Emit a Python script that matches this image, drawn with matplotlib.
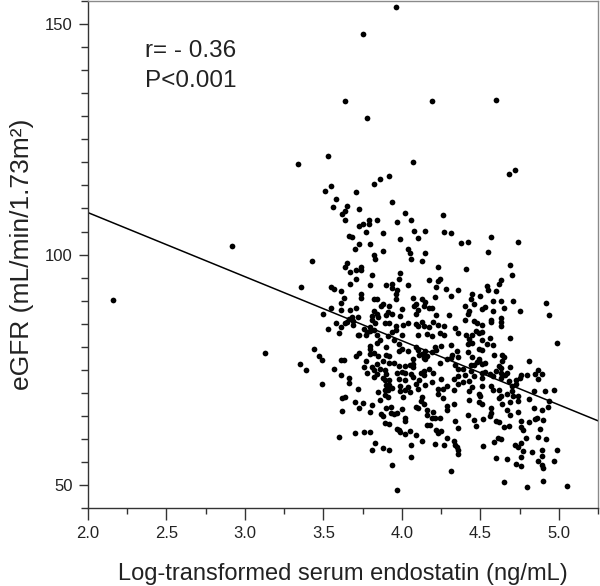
import matplotlib
matplotlib.use("Agg")
import matplotlib.pyplot as plt
from matplotlib.ticker import MultipleLocator

plt.rcParams["font.family"] = ["Liberation Sans", "DejaVu Sans"]

# ── data (log endostatin, eGFR) ──────────────────────────────────
# sparse / outlying points
xa = [3.96, 3.75, 3.64, 4.19, 3.78, 3.53, 3.34, 4.07, 3.92, 3.86,
      3.51, 3.55, 3.71, 3.82, 3.58, 4.60, 4.72, 4.68, 2.92, 2.16, 3.13]
ya = [153.8, 147.8, 133.3, 133.3, 129.6, 121.3, 119.7, 120.0, 117.1, 116.4,
      113.8, 114.9, 113.5, 115.4, 112.1, 133.5, 118.3, 117.4, 101.9, 90.2, 78.7]

# upper cloud
xb = [3.56, 3.65, 3.64, 3.62, 3.64, 3.73, 3.94, 4.02, 4.26, 3.79,
      3.84, 3.79, 3.75, 3.73, 3.97, 4.06, 4.08, 4.15, 3.77, 3.88,
      3.66, 3.68, 4.10, 3.99, 4.27, 4.31, 4.38, 4.42, 4.57, 4.74,
      3.73, 3.80, 3.70, 4.04, 4.05, 4.15, 3.88, 3.82, 3.83, 4.06,
      4.13, 4.55, 3.43, 3.65, 3.64, 3.74, 3.74, 3.71, 3.67, 3.99,
      4.23, 4.41, 4.69, 4.70, 3.81, 3.71, 3.80, 3.67, 3.98, 3.94,
      4.04, 3.90, 4.17, 4.23, 4.24, 4.22, 4.36, 4.28, 4.63, 4.62,
      4.54, 4.55, 4.60, 3.36, 3.55, 3.57, 3.61, 3.94, 3.97, 3.96,
      3.74, 3.74, 3.63, 3.82, 3.84, 3.96, 4.07, 4.13, 4.15, 4.21,
      4.31, 4.09, 4.08, 4.17, 4.19, 4.14, 3.88, 3.87, 3.61, 3.61,
      3.55, 3.67, 3.71, 3.92, 3.91, 3.82, 3.84, 3.90, 3.94, 4.00,
      4.10, 4.09, 4.22, 3.99, 4.45, 4.44, 4.50, 4.46, 4.40, 4.43,
      4.42, 4.51, 4.53, 4.58, 4.63, 4.71, 4.65, 4.75, 4.92, 4.94,
      4.58]
yb = [110.4, 110.5, 109.5, 108.8, 107.6, 109.9, 111.4, 109.1, 108.5, 107.5,
      107.6, 106.6, 106.7, 106.2, 107.0, 107.6, 105.1, 105.1, 104.9, 104.6,
      104.0, 103.9, 103.7, 103.4, 105.0, 104.7, 102.5, 102.7, 103.9, 102.7,
      102.2, 102.2, 101.3, 101.3, 100.3, 100.4, 100.8, 99.9, 99.0, 99.0,
      98.5, 100.6, 98.5, 98.2, 97.2, 97.4, 96.6, 96.7, 96.3, 96.1,
      97.2, 96.9, 97.7, 95.6, 95.5, 94.8, 93.4, 93.6, 94.8, 93.7,
      93.4, 93.4, 94.5, 94.3, 94.8, 93.0, 92.4, 92.5, 94.4, 93.7,
      93.2, 92.4, 92.2, 92.9, 92.9, 92.6, 92.2, 92.7, 92.4, 91.4,
      91.4, 90.6, 90.6, 90.4, 90.3, 90.4, 90.5, 90.4, 89.6, 90.8,
      90.9, 89.3, 88.8, 88.5, 88.4, 88.9, 89.3, 88.8, 89.5, 88.0,
      88.4, 88.0, 88.3, 88.8, 87.5, 87.8, 87.1, 86.9, 87.2, 88.1,
      88.0, 87.2, 86.9, 86.7, 91.5, 90.4, 90.9, 89.3, 88.9, 87.8,
      87.2, 88.2, 88.7, 89.9, 90.0, 90.0, 88.3, 87.8, 89.4, 86.9,
      87.7]

# middle band
xc = [4.57, 4.63, 4.63, 4.63, 4.57, 4.46, 4.48, 4.51, 4.47, 4.49,
      4.51, 4.45, 4.41, 4.40, 4.34, 4.36, 4.30, 4.27, 4.23, 4.17,
      4.20, 4.13, 4.14, 4.10, 4.09, 4.01, 4.04, 3.96, 3.94, 3.96,
      4.00, 3.89, 3.92, 3.83, 3.85, 3.81, 3.81, 3.80, 3.80, 3.78,
      3.76, 3.77, 3.82, 3.73, 3.72, 3.84, 3.91, 4.10, 4.16, 4.19,
      4.24, 4.27, 3.69, 3.69, 3.65, 3.66, 3.68, 3.72, 3.64, 3.58,
      3.61, 3.53, 3.60, 3.50, 4.69, 4.56, 4.43]
yc = [85.9, 86.3, 85.4, 84.5, 85.4, 85.5, 85.1, 84.7, 83.5, 82.9,
      83.1, 82.6, 82.5, 85.8, 84.1, 82.9, 86.9, 84.6, 84.8, 84.2,
      85.4, 85.3, 84.5, 84.4, 85.0, 84.7, 85.1, 84.6, 83.2, 83.7,
      82.6, 85.2, 85.2, 85.2, 86.4, 86.6, 85.9, 84.2, 83.4, 83.1,
      83.9, 82.5, 83.6, 82.5, 82.5, 82.5, 82.4, 82.6, 82.8, 82.3,
      82.9, 82.6, 84.8, 85.5, 85.3, 86.0, 86.4, 86.4, 85.1, 85.2,
      84.3, 83.8, 83.0, 87.2, 82.0, 82.0, 81.7]

# lower-left cloud
xd = [3.44, 3.47, 3.49, 3.35, 3.39, 3.49, 3.57, 3.61, 3.63, 3.61,
      3.66, 3.66, 3.72, 3.71, 3.73, 3.80, 3.80, 3.84, 3.86, 3.85,
      3.82, 3.80, 3.90, 3.90, 3.92, 3.88, 3.76, 3.81, 3.82, 3.86,
      3.89, 3.90, 3.82, 3.78, 3.84, 3.88, 3.89, 3.92, 3.90, 3.92,
      3.89, 3.91, 3.85, 3.89, 3.94, 3.91, 3.95, 3.98, 4.02, 4.05,
      4.07, 4.07, 4.00, 4.02, 3.97, 3.98, 4.02, 4.06, 4.07, 4.12,
      4.14, 4.14, 4.11, 4.09, 4.04, 3.99, 3.99, 4.01, 4.05, 4.02,
      4.10, 4.15, 4.19, 4.20, 4.17, 4.15, 4.14, 4.13, 4.11, 4.10,
      4.09, 4.14, 4.16, 4.15, 4.19, 4.21, 4.22, 4.24, 4.25, 4.23,
      3.77, 3.84, 3.92, 3.98, 4.00, 4.04, 3.98, 3.95, 4.07, 4.23]
yd = [79.6, 78.0, 77.1, 76.2, 75.0, 71.9, 75.2, 77.1, 77.1, 73.8,
      73.3, 72.2, 70.9, 77.9, 78.7, 80.1, 79.5, 80.7, 81.4, 78.0,
      78.7, 78.4, 79.9, 78.1, 77.9, 76.8, 75.5, 75.5, 75.0, 75.1,
      75.0, 74.0, 73.4, 74.2, 74.1, 73.2, 72.7, 72.7, 71.6, 71.8,
      70.6, 70.6, 70.2, 69.6, 71.1, 69.1, 76.5, 75.9, 75.8, 76.1,
      75.7, 76.3, 74.5, 74.3, 74.2, 72.9, 72.7, 74.0, 73.5, 74.2,
      73.8, 74.8, 72.7, 71.9, 71.2, 71.4, 70.3, 69.1, 70.1, 70.5,
      70.9, 71.7, 72.4, 74.2, 75.1, 77.3, 77.5, 78.4, 78.3, 79.2,
      80.0, 78.2, 77.9, 79.0, 78.9, 79.9, 79.2, 76.5, 73.1, 69.8,
      76.8, 76.3, 76.4, 79.1, 79.5, 79.0, 80.6, 81.5, 77.3, 70.9]

# bottom-left cloud
xe = [4.29, 4.29, 4.20, 4.19, 4.16, 4.12, 4.14, 4.16, 4.09, 4.13,
      4.10, 4.00, 4.02, 4.02, 3.97, 3.95, 3.93, 3.93, 3.90, 3.87,
      3.88, 3.89, 3.92, 3.86, 3.81, 3.80, 3.75, 3.73, 3.70, 3.62,
      3.62, 3.64, 3.76, 3.80, 3.60, 3.70, 3.97, 3.98, 3.99, 4.02,
      4.05, 4.09, 3.83, 3.81, 3.88, 3.92, 3.94, 3.97, 4.06, 4.06,
      4.13, 4.21, 4.16, 4.21, 4.18, 4.23, 4.25, 4.27, 4.29, 4.33,
      4.34, 4.35, 4.36, 4.36, 4.31, 4.34, 4.36, 4.22, 4.24, 4.26]
ye = [67.1, 66.2, 65.9, 64.5, 65.1, 68.2, 67.5, 66.2, 67.0, 69.0,
      66.7, 66.4, 64.5, 63.8, 65.6, 65.4, 65.6, 66.9, 66.7, 65.4,
      64.9, 63.4, 63.3, 68.5, 67.3, 65.9, 67.8, 66.8, 68.1, 68.8,
      66.1, 69.0, 61.5, 61.5, 60.5, 61.2, 62.1, 62.0, 61.5, 61.0,
      61.8, 60.9, 59.1, 57.5, 58.1, 57.6, 54.3, 49.0, 58.7, 56.0,
      59.5, 58.9, 63.1, 64.6, 63.0, 61.3, 61.8, 58.6, 60.2, 59.6,
      58.7, 58.2, 57.6, 56.8, 53.1, 63.8, 62.3, 62.0, 64.6, 68.8]

# right cloud, upper part
xf = [4.26, 4.29, 4.33, 4.33, 4.36, 4.36, 4.39, 4.40, 4.39, 4.36,
      4.34, 4.31, 4.32, 4.31, 4.35, 4.36, 4.42, 4.44, 4.46, 4.48,
      4.49, 4.49, 4.51, 4.53, 4.51, 4.53, 4.45, 4.49, 4.45, 4.42,
      4.51, 4.51, 4.54, 4.58, 4.64, 4.65, 4.64, 4.62, 4.59, 4.58,
      4.60, 4.63, 4.63, 4.66, 4.67, 4.69, 4.63, 4.68, 4.70, 4.73,
      4.73, 4.75, 4.76, 4.80, 4.85, 4.87, 4.89, 4.81, 4.99, 4.25,
      4.29, 4.33, 4.44, 4.46, 4.56, 4.87]
yf = [70.8, 71.4, 70.6, 67.5, 71.9, 73.7, 72.3, 73.8, 75.2, 75.2,
      76.0, 77.6, 78.2, 80.3, 79.1, 77.7, 78.9, 76.1, 76.1, 76.6,
      77.4, 76.8, 76.3, 76.4, 74.3, 74.5, 77.7, 79.4, 80.9, 80.5,
      81.5, 79.2, 80.6, 80.3, 78.3, 77.8, 77.0, 75.9, 78.1, 73.7,
      74.7, 75.3, 74.4, 73.8, 74.3, 75.5, 73.3, 72.5, 71.4, 72.7,
      71.9, 73.2, 73.8, 73.9, 74.1, 75.0, 74.0, 76.9, 80.8, 80.2,
      77.4, 72.9, 74.8, 73.7, 74.0, 73.1]

# right cloud, lower part
xg = [4.91, 4.97, 4.94, 4.93, 4.84, 4.81, 4.70, 4.71, 4.69, 4.74,
      4.67, 4.63, 4.62, 4.64, 4.62, 4.58, 4.57, 4.51, 4.51, 4.45,
      4.43, 4.43, 4.49, 4.50, 4.49, 4.51, 4.43, 4.42, 4.46, 4.47,
      4.52, 4.56, 4.57, 4.57, 4.60, 4.62, 4.65, 4.67, 4.69, 4.68,
      4.76, 4.76, 4.77, 4.81, 4.84, 4.86, 4.90, 4.88, 4.92, 4.87,
      4.79, 4.76, 4.72, 4.74, 4.77, 4.76, 4.83, 4.89, 4.89, 4.87,
      4.89, 4.90, 4.97, 4.99, 4.61, 4.63, 4.59, 4.52, 4.60, 4.67,
      4.73, 4.76, 4.65, 4.80, 4.90, 5.05, 4.74, 4.74, 4.89, 4.85]
yg = [70.3, 70.5, 68.2, 66.9, 70.3, 68.6, 70.4, 69.3, 68.1, 68.3,
      69.8, 69.3, 68.8, 67.5, 70.6, 70.6, 71.4, 73.2, 71.4, 71.2,
      70.3, 72.6, 69.8, 69.3, 68.0, 67.6, 68.4, 65.1, 64.1, 62.8,
      64.4, 64.9, 66.8, 65.7, 63.9, 63.6, 62.6, 66.2, 65.1, 62.8,
      63.8, 62.5, 62.0, 63.6, 66.6, 64.5, 64.1, 62.2, 59.9, 60.4,
      60.2, 59.2, 58.7, 58.2, 57.3, 56.0, 57.1, 57.5, 56.3, 55.3,
      54.3, 53.6, 55.3, 57.5, 60.2, 59.9, 59.4, 58.5, 55.8, 55.6,
      54.5, 54.2, 50.6, 49.5, 50.8, 49.8, 69.3, 65.9, 66.3, 64.3]

# regression line reported in the figure
fit_intercept = 136.9
fit_slope = -13.9
fit_range = [2.0, 5.25]

endostatin = xa + xb + xc + xd + xe + xf + xg
egfr = ya + yb + yc + yd + ye + yf + yg
assert len(endostatin) == len(egfr)

# ── figure ───────────────────────────────────────────────────────
fig = plt.figure(figsize=(6.0, 5.86), dpi=100)
ax = fig.add_axes([0.1467, 0.1331, 0.85, 0.865])

ax.scatter(endostatin, egfr, s=17, color="black", linewidths=0, zorder=3)
ax.plot(fit_range, [fit_intercept + fit_slope * v for v in fit_range],
        color="black", lw=1.1, zorder=2)

ax.set_xlim(2.0, 5.25)
ax.set_ylim(45, 155)
ax.xaxis.set_major_locator(MultipleLocator(0.5))
ax.xaxis.set_minor_locator(MultipleLocator(0.25))
ax.yaxis.set_major_locator(MultipleLocator(50))
ax.yaxis.set_minor_locator(MultipleLocator(5))
ax.xaxis.set_major_formatter(plt.FormatStrFormatter("%.1f"))

txt = "#222222"
ax.tick_params(which="both", direction="out", width=1.0,
               colors="#333333", labelsize=12, labelcolor=txt)
ax.tick_params(axis="x", which="major", length=8.6, pad=4)
ax.tick_params(axis="x", which="minor", length=4.5)
ax.tick_params(axis="y", which="major", length=6.7, pad=4.4)
ax.tick_params(axis="y", which="minor", length=4.8)

for side in ("left", "bottom"):
    ax.spines[side].set_color("#333333")
    ax.spines[side].set_linewidth(1.0)
for side in ("top", "right"):
    ax.spines[side].set_color("#8a8a8a")
    ax.spines[side].set_linewidth(1.0)

ax.set_xlabel("Log-transformed serum endostatin (ng/mL)", fontsize=17,
              color=txt, labelpad=16)
ax.set_ylabel("eGFR (mL/min/1.73m²)", fontsize=19, color=txt, labelpad=8)

ax.text(0.112, 0.890, "r= - 0.36", transform=ax.transAxes, fontsize=17.5,
        color=txt, ha="left", va="baseline")
ax.text(0.112, 0.831, "P<0.001", transform=ax.transAxes, fontsize=17.5,
        color=txt, ha="left", va="baseline")

fig.savefig("out.png", dpi=100, facecolor="white")
